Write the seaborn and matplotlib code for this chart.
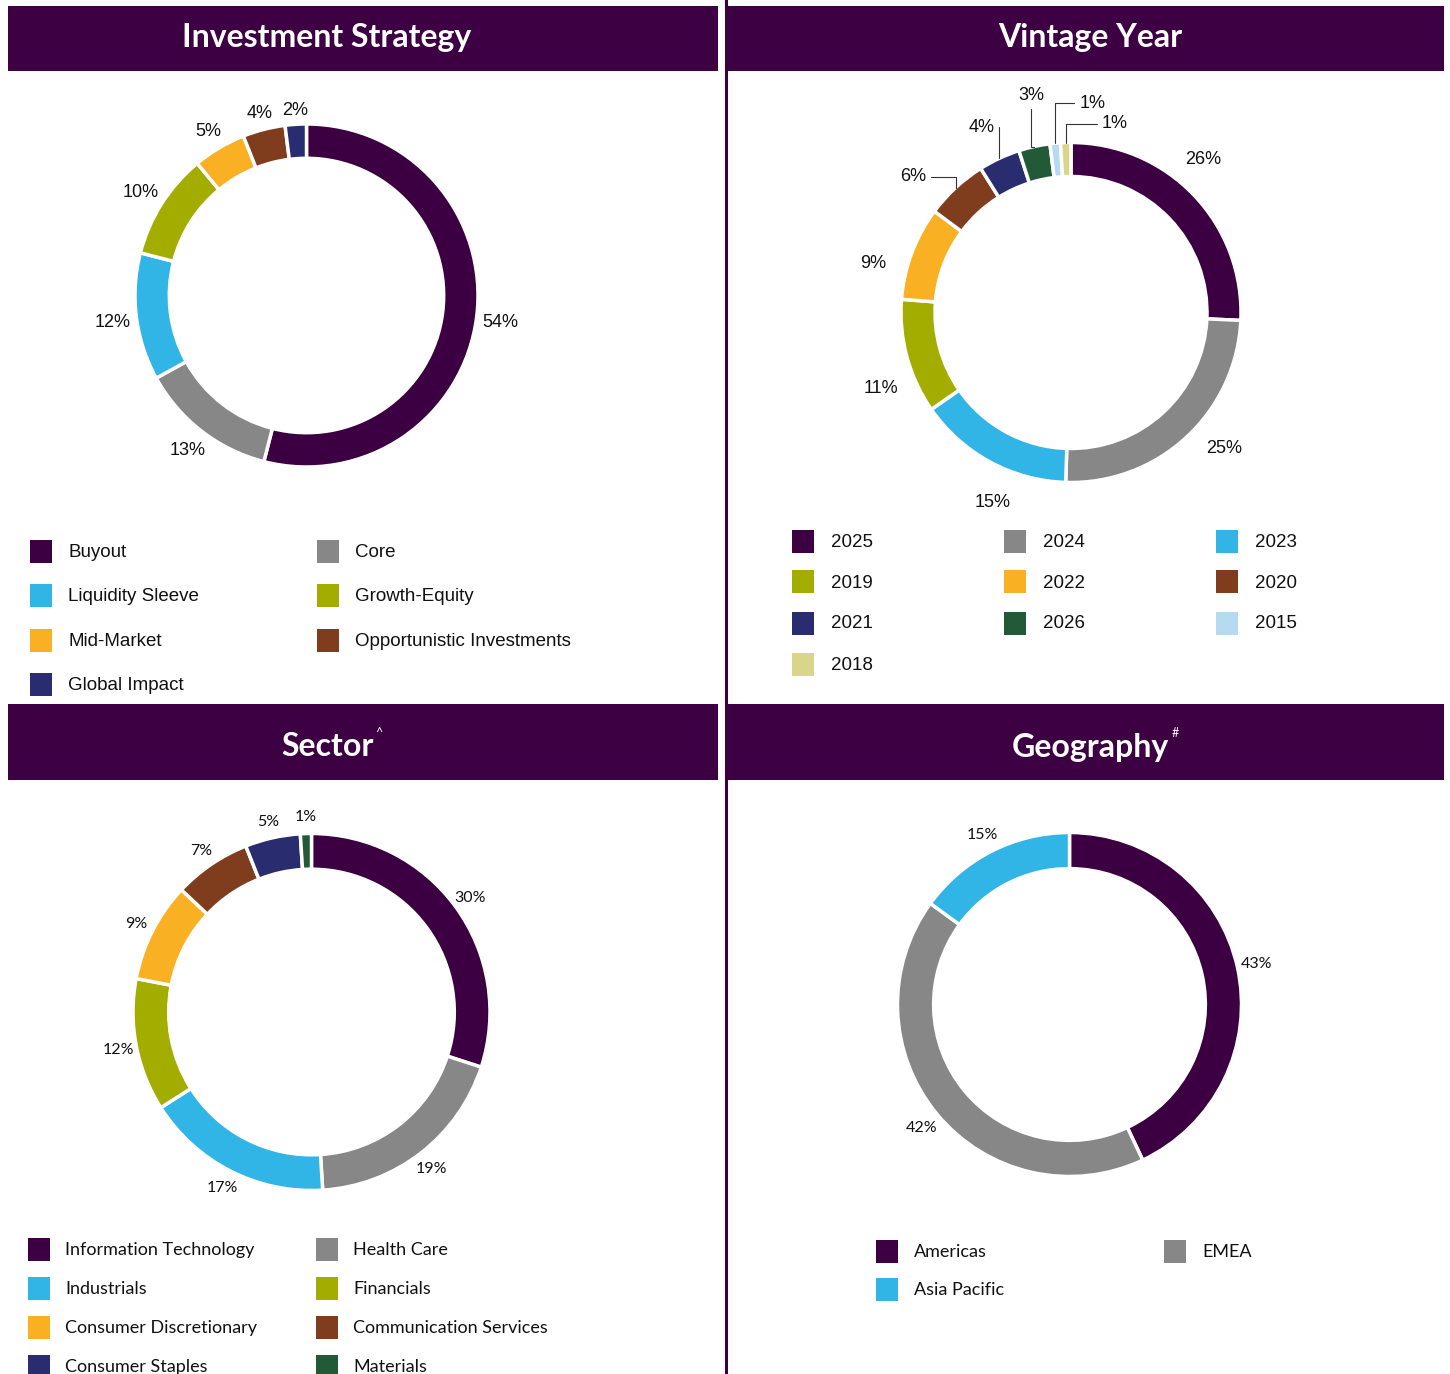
import numpy as np
import matplotlib.pyplot as plt
import seaborn as sns
from matplotlib.patches import Rectangle
from matplotlib.lines import Line2D

W, H = 1450, 1374

# --- data ---
strategy_labels = ["Buyout", "Core", "Liquidity Sleeve", "Growth-Equity", "Mid-Market",
                   "Opportunistic Investments", "Global Impact"]
strategy_values = [54, 13, 12, 10, 5, 4, 2]

vintage_labels = ["2025", "2024", "2023", "2019", "2022", "2020", "2021", "2026", "2015", "2018"]
vintage_values = [26, 25, 15, 11, 9, 6, 4, 3, 1, 1]

sector_labels = ["Information Technology", "Health Care", "Industrials", "Financials",
                 "Consumer Discretionary", "Communication Services", "Consumer Staples", "Materials"]
sector_values = [30, 19, 17, 12, 9, 7, 5, 1]

geo_labels = ["Americas", "EMEA", "Asia Pacific"]
geo_values = [43, 42, 15]

# --- style ---
sns.set_theme(style="white")
palette = sns.color_palette(["#3C0042", "#878787", "#31B4E6", "#A3AD00", "#F9B023",
                             "#803D1E", "#292C6E", "#225A37", "#B6DAF0", "#D9D68B"])
header_col = "#3D0042"
arial = ["Liberation Sans", "DejaVu Sans"]
calibri = ["Lato", "DejaVu Sans"]

fig = plt.figure(figsize=(W / 100, H / 100), dpi=100)
fig.patch.set_facecolor("white")


def fx(x):
    return x / W


def fy(y):
    return 1 - y / H


def header(x0, x1, y0, y1, title, tx, ty, sup=None, sx=None, sy=None):
    fig.add_artist(Rectangle((fx(x0), fy(y1)), (x1 - x0) / W, (y1 - y0) / H,
                             transform=fig.transFigure, color=header_col, lw=0))
    fig.text(fx(tx), fy(ty), title, ha="center", va="center", color="white",
             fontsize=23, fontweight="bold", family=calibri)
    if sup:
        fig.text(fx(sx), fy(sy), sup, ha="center", va="center", color="white",
                 fontsize=9, family=calibri)


def donut(cx, cy, r, values, width, label_r, fsize, family, skip=0, box=(0, 0), rot=0):
    # label sits just outside the ring; box = half width / half height of the label (px)
    ax = fig.add_axes([(cx - 1.4 * r) / W, 1 - (cy + 1.4 * r) / H, 2.8 * r / W, 2.8 * r / H])
    wedges, _ = ax.pie(values, colors=palette[:len(values)], startangle=90, counterclock=False,
                       radius=1, wedgeprops=dict(width=width, edgecolor="white", linewidth=2.5))
    ax.set_xlim(-1.4, 1.4)
    ax.set_ylim(-1.4, 1.4)
    ax.set_aspect("equal")
    ax.axis("off")
    n = len(values) - skip
    for w, v in zip(wedges[:n], values[:n]):
        t = np.deg2rad((w.theta1 + w.theta2) / 2 + rot)
        c, s = np.cos(t), np.sin(t)
        d = label_r + (box[0] * abs(c) + box[1] * abs(s)) / r
        ax.text(d * c, d * s, f"{v}%", ha="center", va="center_baseline",
                fontsize=fsize, family=family, color="#111111")
    return ax, wedges


def legend(labels, x0, y0, dx, dy, ncol, toff, fsize, family):
    for i, lab in enumerate(labels):
        r, c = divmod(i, ncol)
        x = x0 + c * dx
        y = y0 + r * dy
        fig.add_artist(Rectangle((fx(x), fy(y + 11.5)), 22 / W, 23 / H,
                                 transform=fig.transFigure, color=palette[i], lw=0))
        fig.text(fx(x + toff), fy(y + 1), lab, ha="left", va="center",
                 fontsize=fsize, family=family, color="#111111")


# --- headers and divider ---
header(8, 718, 6, 71, "Investment Strategy", 327, 37)
header(727, 1444, 6, 71, "Vintage Year", 1090, 37)
header(8, 718, 704, 780, "Sector", 327, 747, "^", 379, 733)
header(727, 1444, 704, 780, "Geography", 1090, 747, "#", 1175, 733)
fig.add_artist(Line2D([fx(726), fx(726)], [0, 1], transform=fig.transFigure,
                      color=header_col, lw=2.2))

# --- Investment Strategy ---
donut(306.5, 295.5, 171.5, strategy_values, 0.2, 1.055, 13, arial, box=(14, 6))
legend(strategy_labels, 30, 551, 287, 44.5, 2, 38, 13.5, arial)

# --- Vintage Year ---
ax_v, w_v = donut(1071, 312.5, 170, vintage_values, 0.2, 1.2, 13, arial, skip=5, rot=6)
# small slices get leader lines
offsets = [(-42, 11), (-18, 31), (-3, 51), (37, 40), (49, 19)]
styles = ["angle,angleA=0,angleB=90", "angle,angleA=0,angleB=90", "angle,angleA=90,angleB=0",
          "angle,angleA=0,angleB=90", "angle,angleA=0,angleB=90"]
for w, v, off, cs in zip(w_v[5:], vintage_values[5:], offsets, styles):
    t = np.deg2rad((w.theta1 + w.theta2) / 2)
    ax_v.annotate(f"{v}%", xy=(np.cos(t), np.sin(t)), xytext=off, textcoords="offset pixels",
                  ha="center", va="center", fontsize=13, family=arial, color="#111111",
                  arrowprops=dict(arrowstyle="-", color="#333333", lw=0.8,
                                  connectionstyle=cs, shrinkA=1, shrinkB=0))
legend(vintage_labels, 792, 541, 212, 41, 3, 39, 13.5, arial)

# --- Sector ---
donut(311.5, 1012, 178.5, sector_values, 0.2, 1.1, 11.5, calibri)
legend(sector_labels, 28, 1249, 288, 39, 2, 37, 13, calibri)

# --- Geography ---
donut(1069.5, 1004.5, 172, geo_values, 0.21, 1.115, 11.5, calibri)
legend(geo_labels, 876, 1251, 288, 38, 2, 38, 13, calibri)

fig.savefig("out.png", dpi=100)
